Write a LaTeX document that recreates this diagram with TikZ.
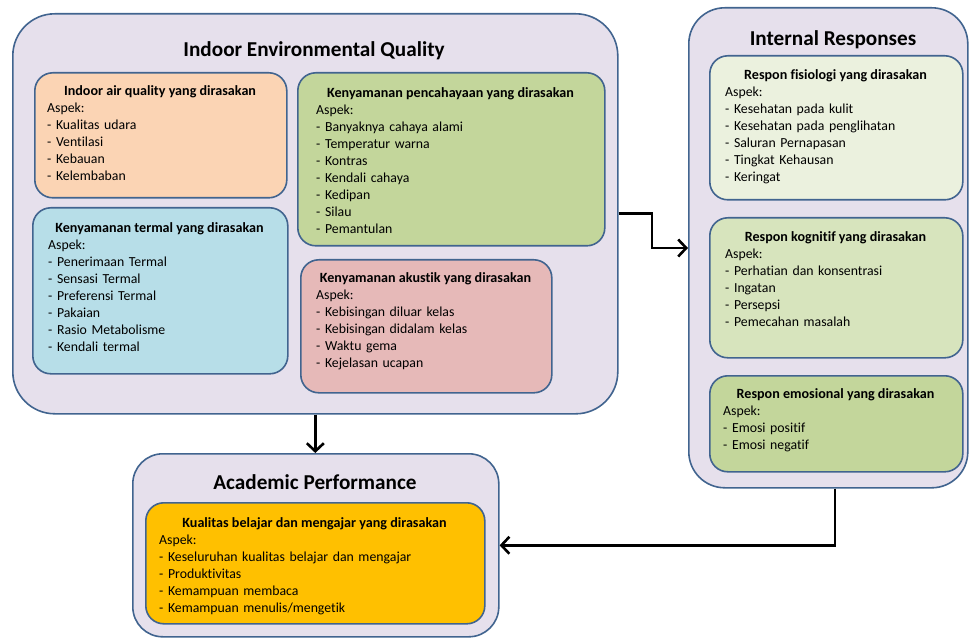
\documentclass[tikz,border=0pt]{standalone}
\usepackage{fontspec}
\setmainfont{Carlito}[Ligatures=NoCommon]
\usetikzlibrary{arrows.meta}

\definecolor{frame}{HTML}{41648F}
\definecolor{lilac}{HTML}{E6E0EC}
\definecolor{peach}{HTML}{FBD4B4}
\definecolor{olive}{HTML}{C3D69B}
\definecolor{aqua}{HTML}{B7DEE8}
\definecolor{rose}{HTML}{E6B9B8}
\definecolor{pale}{HTML}{EBF1DE}
\definecolor{sage}{HTML}{D7E4BD}
\definecolor{amber}{HTML}{FFC000}

\begin{document}
\begin{tikzpicture}[x=1pt,y=-1pt,
  groupbox/.style={draw=frame,fill=lilac,line width=1.6pt,rounded corners=42pt,anchor=north west,inner sep=0},
  panel/.style={draw=frame,line width=1.6pt,rounded corners=18pt,anchor=north west,inner sep=0},
  grouptitle/.style={font=\fontsize{21.2}{24}\selectfont\bfseries,anchor=base,inner sep=0},
  panelhead/.style={font=\fontsize{14.1}{17}\selectfont\bfseries,anchor=base,inner sep=0},
  aspects/.style={font=\fontsize{13.8}{17}\selectfont,anchor=base west,align=left,text width=300pt,inner sep=0},
  link/.style={line width=2.6pt,-{Straight Barb[length=8pt,width=17pt]}}]
\useasboundingbox (0,0) rectangle (970,639);

% the three groups
\node[groupbox,minimum width=605,minimum height=400] (ieq) at (12,13) {};
\node[groupbox,minimum width=279,minimum height=480,rounded corners=36pt] (ir) at (688,7) {};
\node[groupbox,minimum width=366,minimum height=183,rounded corners=30pt] (ap) at (132,453) {};
\node[grouptitle] (ieqtitle) at (314,57) {Indoor Environmental Quality};
\node[grouptitle] (irtitle) at (833,46) {Internal Responses};
\node[grouptitle] (aptitle) at (315,489) {Academic Performance};

% Indoor Environmental Quality
\node[panel,fill=peach,minimum width=252,minimum height=125] (air) at (34,72) {};
\node[panelhead] (airhead) at (160,96) {Indoor air quality yang dirasakan};
\node[aspects] (airlist) at (47,113) {Aspek:\\- Kualitas udara\\- Ventilasi\\- Kebauan\\- Kelembaban};

\node[panel,fill=olive,minimum width=307,minimum height=173] (lux) at (297,72) {};
\node[panelhead] (luxhead) at (450.5,98) {Kenyamanan pencahayaan yang dirasakan};
\node[aspects] (luxlist) at (316,115) {Aspek:\\- Banyaknya cahaya alami\\- Temperatur warna\\- Kontras\\- Kendali cahaya\\- Kedipan\\- Silau\\- Pemantulan};

\node[panel,fill=aqua,minimum width=255,minimum height=166] (therm) at (32,207) {};
\node[panelhead] (thermhead) at (159.5,233) {Kenyamanan termal yang dirasakan};
\node[aspects] (thermlist) at (48,250) {Aspek:\\- Penerimaan Termal\\- Sensasi Termal\\- Preferensi Termal\\- Pakaian\\- Rasio Metabolisme\\- Kendali termal};

\node[panel,fill=rose,minimum width=251,minimum height=133] (acou) at (300,259) {};
\node[panelhead] (acouhead) at (425.5,283) {Kenyamanan akustik yang dirasakan};
\node[aspects] (acoulist) at (316,300) {Aspek:\\- Kebisingan diluar kelas\\- Kebisingan didalam kelas\\- Waktu gema\\- Kejelasan ucapan};

% Internal Responses
\node[panel,fill=pale,minimum width=253,minimum height=144] (fis) at (709,55) {};
\node[panelhead] (fishead) at (835.5,80) {Respon fisiologi yang dirasakan};
\node[aspects] (fislist) at (725,97) {Aspek:\\- Kesehatan pada kulit\\- Kesehatan pada penglihatan\\- Saluran Pernapasan\\- Tingkat Kehausan\\- Keringat};

\node[panel,fill=sage,minimum width=253,minimum height=140] (kog) at (709,217) {};
\node[panelhead] (koghead) at (835.5,242) {Respon kognitif yang dirasakan};
\node[aspects] (koglist) at (725,259) {Aspek:\\- Perhatian dan konsentrasi\\- Ingatan\\- Persepsi\\- Pemecahan masalah};

\node[panel,fill=olive,minimum width=253,minimum height=96] (emo) at (709,375) {};
\node[panelhead] (emohead) at (835.5,398) {Respon emosional yang dirasakan};
\node[aspects] (emolist) at (723,415) {Aspek:\\- Emosi positif\\- Emosi negatif};

% Academic Performance
\node[panel,fill=amber,minimum width=339,minimum height=121] (kual) at (145,502) {};
\node[panelhead] (kualhead) at (314.5,527) {Kualitas belajar dan mengajar yang dirasakan};
\node[aspects] (kuallist) at (159,544) {Aspek:\\- Keseluruhan kualitas belajar dan mengajar\\- Produktivitas\\- Kemampuan membaca\\- Kemampuan menulis/mengetik};

% links
\coordinate (bend) at (652,248);
\draw[link] (ieq.east) -| (bend) -- (ir.west |- bend);
\draw[link] (ieq.south) -- (ieq.south |- ap.north);
\draw[link] (ir.south -| 835,0) |- (ap.east);
\end{tikzpicture}
\end{document}
